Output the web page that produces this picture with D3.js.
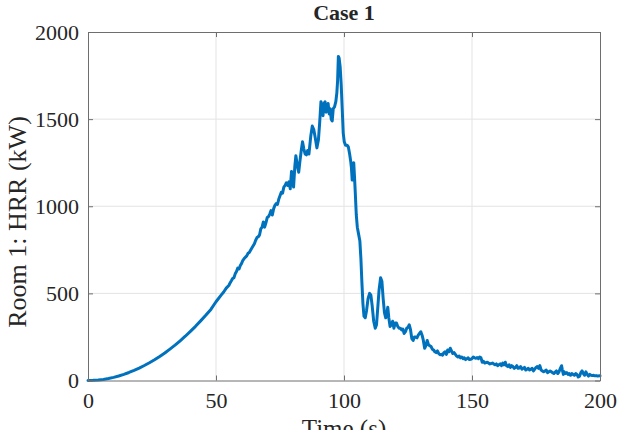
<!DOCTYPE html>
<html>
<head>
<meta charset="utf-8">
<script src="https://cdn.jsdelivr.net/npm/d3@7"></script>
<style>
  html, body { margin: 0; padding: 0; background: #fff; }
  svg { display: block; }
  text { font-family: "Liberation Serif", "Times New Roman", serif; fill: #262626; }
</style>
</head>
<body>
<svg id="chart" width="617" height="430"></svg>
<script>
// Heat release rate of room 1 over time
const time = [
  0, 2, 4, 6, 8, 10, 12, 14, 16, 18, 20, 22, 24, 26, 28, 30, 32, 34, 36, 38, 40, 42, 44, 46, 48, 50, 52, 53, 54,
  55, 55.5, 56, 56.5, 57, 57.5, 58, 58.5, 59, 59.5, 60, 60.5, 61, 62, 62.5, 63, 64, 65, 65.5, 66, 66.5, 67, 67.5,
  68, 68.5, 69, 69.5, 70, 70.5, 71, 71.5, 72, 72.5, 73, 73.5, 74, 74.5, 75, 75.5, 76, 76.5, 77, 77.5, 78, 78.5,
  79, 79.5, 80, 80.3, 80.8, 81.2, 81.8, 82.3, 82.8, 83.3, 83.8, 84.3, 84.8, 85.3, 85.8, 86.3, 87, 87.6, 88.2,
  88.8, 89.4, 90, 90.5, 91, 91.4, 91.8, 92.2, 92.6, 93, 93.4, 93.8, 94.2, 94.6, 95, 95.4, 95.8, 96.3, 96.8,
  97.2, 97.5, 97.8, 98.1, 98.5, 98.9, 99.3, 99.7, 100.1, 100.6, 101.2, 101.7, 102.2, 102.6, 102.9, 103.2,
  103.5, 103.8, 104.1, 104.4, 104.8, 105.2, 105.7, 106.2, 106.6, 107, 107.4, 107.8, 108.3, 108.8, 109.4,
  110, 110.5, 111, 111.6, 112.2, 112.7, 113.2, 113.7, 114.3, 114.8, 115.3, 115.8, 116.3, 116.7, 117.1,
  117.5, 118, 118.5, 119, 119.5, 120, 120.5, 121, 121.5, 122, 122.5, 123, 123.5, 124, 124.5, 125, 125.5,
  126, 126.5, 127, 127.5, 128, 128.5, 129, 129.5, 130, 130.5, 131, 131.5, 132, 132.5, 133, 133.5, 134,
  134.5, 135, 135.5, 136, 136.5, 137, 137.5, 138, 138.5, 139, 139.5, 140, 140.5, 141, 141.5, 142, 142.5,
  143, 143.5, 144, 144.5, 145, 145.5, 146, 146.5, 147, 147.5, 148, 148.5, 149, 149.5, 150, 150.5, 151,
  151.5, 152, 152.5, 153, 153.5, 154, 154.5, 155, 156, 157, 158, 158.5, 159, 159.5, 160, 160.5, 161, 161.5,
  162, 162.5, 163, 163.5, 164, 164.5, 165, 165.5, 166, 166.5, 167, 167.5, 168, 168.5, 169, 169.5, 170,
  170.5, 171, 171.5, 172, 172.5, 173, 173.5, 174, 174.5, 175, 175.5, 176, 176.5, 177, 177.5, 178, 178.5,
  179, 179.5, 180, 180.5, 181, 181.5, 182, 182.5, 183, 183.5, 184, 184.5, 185, 185.3, 185.7, 186, 186.5,
  187, 187.5, 188, 188.5, 189, 189.5, 190, 190.5, 191, 191.5, 192, 192.5, 193, 193.5, 194, 194.5, 195,
  195.5, 196, 196.5, 197, 197.5, 198, 198.5, 199, 200
];
const hrr = [
  0, 1, 3, 6, 11, 18, 26, 35, 46, 58, 71, 86, 102, 119, 138, 158, 180, 203, 228, 254, 282, 311, 342, 374, 408, 452, 490, 508, 530,
  545, 560, 572, 585, 590, 612, 625, 645, 640, 660, 672, 690, 700, 715, 730, 735, 760, 785, 805, 820, 825, 835, 870,
  880, 910, 880, 905, 935, 940, 955, 975, 950, 985, 1005, 1015, 1010, 1040, 1060, 1080, 1075, 1110, 1120, 1135, 1120, 1140,
  1100, 1200, 1150, 1110, 1230, 1290, 1230, 1195, 1260, 1320, 1370, 1330, 1300, 1295, 1320, 1300, 1400, 1460, 1440,
  1390, 1335, 1380, 1480, 1600, 1580, 1520, 1590, 1600, 1540, 1560, 1590, 1530, 1560, 1500, 1490, 1560, 1570, 1600,
  1650, 1720, 1860, 1850, 1800, 1700, 1560, 1420, 1370, 1350, 1350, 1340, 1300, 1260, 1220, 1150,
  1180, 1250, 1170, 1080, 950, 880, 840, 800, 700, 560, 440, 370, 360, 400, 470,
  500, 490, 430, 340, 300, 320, 420, 520, 590, 570, 470, 390, 360, 380, 420,
  360, 310, 320, 340, 300, 330, 330, 310, 300, 300, 290, 295, 270, 280, 300, 305, 320,
  290, 240, 230, 250, 250, 245, 260, 270, 280, 260, 230, 185, 200, 230, 205, 200, 195,
  180, 175, 165, 160, 170, 155, 148, 150, 145, 160, 165, 150, 175, 165, 185, 170, 155,
  160, 150, 140, 135, 140, 130, 135, 125, 130, 120, 125, 130, 120, 122, 125, 135, 130,
  128, 132, 125, 135, 130, 105, 110, 100, 105, 95, 100, 95, 90, 95, 85, 90, 95, 85,
  100, 90, 105, 85, 80, 90, 75, 85, 80, 70, 75, 85, 70, 72, 80, 65, 70,
  75, 60, 65, 70, 60, 65, 70, 55, 65, 75, 80, 70, 85, 60, 55, 50, 55,
  60, 45, 50, 55, 50, 45, 40, 48, 55, 40, 50, 70, 85, 60, 35, 50, 40,
  45, 35, 40, 30, 40, 35, 30, 40, 35, 20, 25, 45, 55, 40, 30, 50, 35,
  25, 35, 30, 28, 30, 27, 28, 26, 27
];
const xTicks = [0, 50, 100, 150, 200];
const yTicks = [0, 500, 1000, 1500, 2000];
const titleText = "Case 1";
const xLabel = "Time (s)";
const yLabel = "Room 1: HRR (kW)";

const svg = d3.select("#chart");
const margin = { left: 88, right: 17, top: 32, bottom: 50 };
const W = 617, H = 430;
const plotW = W - margin.left - margin.right;
const plotH = H - margin.top - margin.bottom + 0.5;

const x = d3.scaleLinear().domain([0, 200]).range([margin.left, margin.left + plotW]);
const y = d3.scaleLinear().domain([0, 2000]).range([margin.top + plotH, margin.top]);

const gridColor = "#e3e3e3";
const axisColor = "#6e6e6e";
const fmt = d3.format("d");

// grid lines
const grid = svg.append("g");
grid.selectAll("line.gx").data(xTicks.slice(1, -1)).join("line")
  .attr("x1", d => x(d)).attr("x2", d => x(d))
  .attr("y1", y(0)).attr("y2", y(2000))
  .attr("stroke", gridColor).attr("stroke-width", 1);
grid.selectAll("line.gy").data(yTicks.slice(1, -1)).join("line")
  .attr("x1", x(0)).attr("x2", x(200))
  .attr("y1", d => y(d)).attr("y2", d => y(d))
  .attr("stroke", gridColor).attr("stroke-width", 1);

// data line
const pts = time.map((t, i) => [t, hrr[i]]);
const line = d3.line().x(d => x(d[0])).y(d => y(d[1]));
svg.append("path")
  .datum(pts)
  .attr("d", line)
  .attr("fill", "none")
  .attr("stroke", "#0072bd")
  .attr("stroke-width", 3)
  .attr("stroke-linejoin", "round")
  .attr("stroke-linecap", "round");

// axes (ticks pointing inward, on all four sides)
const tickLen = 5;
const xb = d3.axisBottom(x).tickValues(xTicks).tickFormat(fmt).tickSizeInner(-tickLen).tickSizeOuter(0).tickPadding(12);
const xt = d3.axisTop(x).tickValues(xTicks).tickSizeInner(-tickLen).tickSizeOuter(0).tickFormat("");
const yl = d3.axisLeft(y).tickValues(yTicks).tickFormat(fmt).tickSizeInner(-tickLen).tickSizeOuter(0).tickPadding(9);
const yr = d3.axisRight(y).tickValues(yTicks).tickSizeInner(-tickLen).tickSizeOuter(0).tickFormat("");

function styleAxis(g) {
  g.selectAll("path.domain").attr("stroke", axisColor).attr("stroke-width", 1);
  g.selectAll(".tick line").attr("stroke", axisColor).attr("stroke-width", 1);
  g.selectAll(".tick text")
    .attr("font-family", "'Liberation Serif', 'Times New Roman', serif")
    .attr("font-size", 22)
    .attr("fill", "#262626");
}

svg.append("g").attr("transform", `translate(0,${y(0)})`).call(xb).call(styleAxis);
svg.append("g").attr("transform", `translate(0,${y(2000)})`).call(xt).call(styleAxis);
svg.append("g").attr("transform", `translate(${x(0)},0)`).call(yl).call(styleAxis);
svg.append("g").attr("transform", `translate(${x(200)},0)`).call(yr).call(styleAxis);

// title and axis labels
svg.append("text")
  .attr("x", x(100)).attr("y", 20)
  .attr("text-anchor", "middle")
  .attr("font-size", 22).attr("font-weight", "bold")
  .attr("fill", "#000")
  .text(titleText);

svg.append("text")
  .attr("x", x(100)).attr("y", 437)
  .attr("text-anchor", "middle")
  .attr("font-size", 25)
  .text(xLabel);

svg.append("text")
  .attr("transform", `translate(26,222) rotate(-90)`)
  .attr("text-anchor", "middle")
  .attr("font-size", 26)
  .text(yLabel);
</script>
</body>
</html>
